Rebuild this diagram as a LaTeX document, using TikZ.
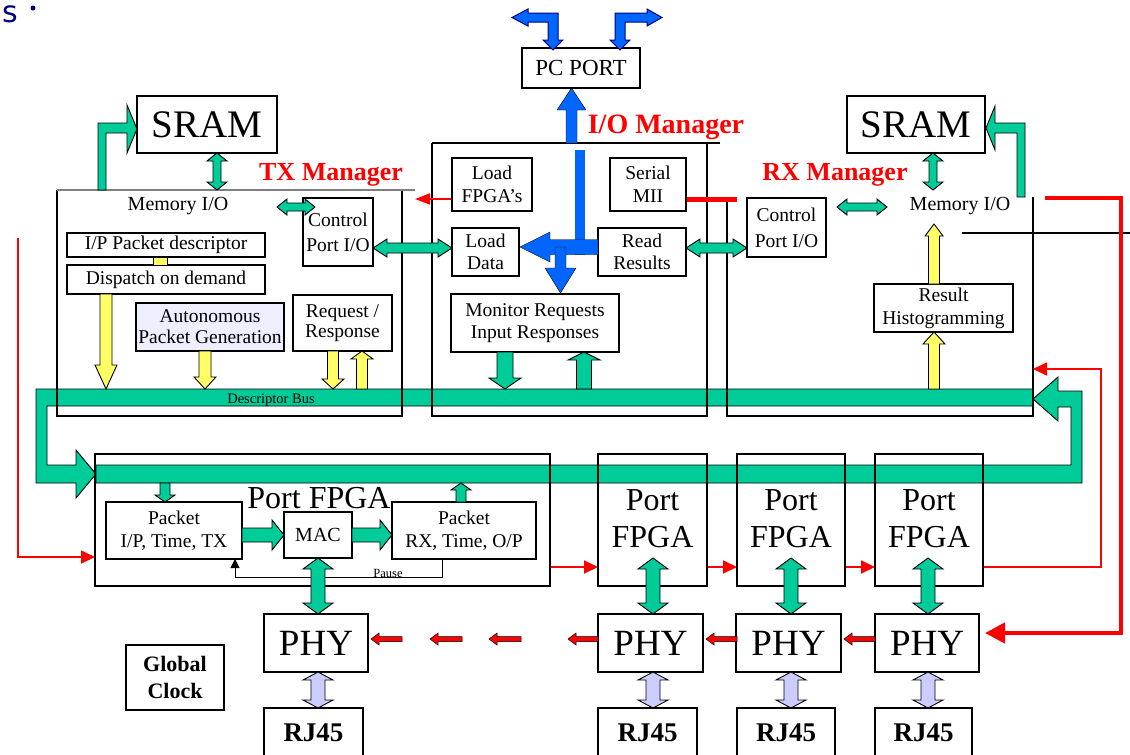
\documentclass[tikz,border=0pt]{standalone}
\usepackage{fontspec}
\setmainfont{Liberation Serif}
\newfontfamily\sansS{DejaVu Sans}
\usetikzlibrary{arrows.meta}
\definecolor{grn}{RGB}{0,204,153}
\definecolor{blu}{RGB}{0,102,255}
\definecolor{ylw}{RGB}{255,255,102}
\definecolor{lav}{RGB}{204,204,255}
\definecolor{rdd}{RGB}{255,0,0}
\definecolor{nvy}{RGB}{0,0,128}
\definecolor{apgfill}{RGB}{238,238,255}
\newcommand{\myfs}[2]{\fontsize{#1}{#2}\selectfont}
% vertical single-headed block arrow: x, ytail, ytip, half shaft, half head, head length, style
\newcommand{\blkV}[7]{%
 \pgfmathsetmacro\bdir{ifthenelse(#3>#2,1,-1)}%
 \pgfmathsetmacro\bbase{#3-\bdir*#6}%
 \draw[#7] ({#1-#4},#2) -- ({#1-#4},\bbase) -- ({#1-#5},\bbase) -- (#1,#3) -- ({#1+#5},\bbase) -- ({#1+#4},\bbase) -- ({#1+#4},#2) -- cycle;}
% horizontal single-headed block arrow: y, xtail, xtip, half shaft, half head, head length, style
\newcommand{\blkH}[7]{%
 \pgfmathsetmacro\bdir{ifthenelse(#3>#2,1,-1)}%
 \pgfmathsetmacro\bbase{#3-\bdir*#6}%
 \draw[#7] (#2,{#1-#4}) -- (\bbase,{#1-#4}) -- (\bbase,{#1-#5}) -- (#3,#1) -- (\bbase,{#1+#5}) -- (\bbase,{#1+#4}) -- (#2,{#1+#4}) -- cycle;}
% vertical double-headed: x, ytop, ybottom, hs, hh, hl, style
\newcommand{\blkVV}[7]{%
 \draw[#7] (#1,#2) -- ({#1+#5},{#2+#6}) -- ({#1+#4},{#2+#6}) -- ({#1+#4},{#3-#6}) -- ({#1+#5},{#3-#6}) -- (#1,#3) -- ({#1-#5},{#3-#6}) -- ({#1-#4},{#3-#6}) -- ({#1-#4},{#2+#6}) -- ({#1-#5},{#2+#6}) -- cycle;}
% horizontal double-headed: y, xleft, xright, hs, hh, hl, style
\newcommand{\blkHH}[7]{%
 \draw[#7] (#2,#1) -- ({#2+#6},{#1-#5}) -- ({#2+#6},{#1-#4}) -- ({#3-#6},{#1-#4}) -- ({#3-#6},{#1-#5}) -- (#3,#1) -- ({#3-#6},{#1+#5}) -- ({#3-#6},{#1+#4}) -- ({#2+#6},{#1+#4}) -- ({#2+#6},{#1+#5}) -- cycle;}
\tikzset{
 bx/.style={draw, line width=1.1pt, inner sep=0, align=center, fill=white},
 bxo/.style={draw, line width=1.1pt, inner sep=0},
 lbl/.style={inner sep=0, align=center},
 mtitle/.style={inner sep=0, text=rdd, font=\bfseries\myfs{26}{26}},
 mgr/.style={line width=1.1pt},
 gA/.style={draw=black, line width=0.9pt, fill=grn},
 yA/.style={draw=black, line width=0.9pt, fill=ylw},
 lA/.style={draw=black, line width=0.9pt, fill=lav},
 rA/.style={draw=black, line width=0.5pt, fill=rdd},
 bA/.style={fill=blu},
 bAo/.style={draw=nvy, line width=1pt, fill=blu},
 rl/.style={draw=rdd, line width=1.8pt, -{Triangle[length=14pt,width=13pt]}},
}
\begin{document}
\begin{tikzpicture}[x=1pt,y=-1pt,line join=miter]
\useasboundingbox (0,0) rectangle (1130,755);
\clip (0,0) rectangle (1130,755);
\fill[white] (0,0) rectangle (1130,755);

% title remnant
\node[anchor=base west, inner sep=0, text=nvy, font=\sansS\myfs{30}{30}] (ttl) at (2,22) {s};
\fill[nvy] (33,8) circle (2.5);

% ---------- green buses ----------
\draw[gA] (1033,389) -- (36,389) -- (36,483) -- (76,483) -- (76,498) -- (96,474) -- (76,450) -- (76,465) -- (47,465) -- (47,406) -- (1033,406) -- cycle;
\draw[gA] (96,465) -- (1071,465) -- (1071,407) -- (1058,407) -- (1058,421) -- (1033,399) -- (1058,377) -- (1058,391) -- (1082,391) -- (1082,483) -- (96,483) -- cycle;

% ---------- manager frames ----------
\draw[mgr] (57,190) -- (57,416) -- (402,416) -- (402,190);
\draw[gray, line width=1.6pt] (57,190) -- (415,190);
\draw[mgr] (432,143) -- (432,416) -- (707,416) -- (707,143);
\draw[mgr] (432,143) -- (720,143);
\draw[mgr] (727,197) -- (727,416) -- (1033,416) -- (1033,197);
\draw[line width=2.5pt] (962,233) -- (1130,233);

% ---------- red lines ----------
\draw[rl] (18,238) -- (18,557) -- (95,557);
\draw[rl] (550,567) -- (598,567);
\draw[rl] (707,567) -- (737,567);
\draw[rl] (845,567) -- (875,567);
\draw[rl] (983,567) -- (1101,567) -- (1101,369) -- (1033,369);
\draw[draw=rdd, line width=1.6pt, -{Triangle[length=15pt,width=11pt]}] (452,199) -- (415,199);
\draw[rdd, line width=5pt] (686,199) -- (737,199);
\draw[rdd, line width=4.5pt, -{Triangle[length=20pt,width=20pt]}] (1045,198) -- (1121,198) -- (1121,633) -- (985,633);

% Pause feedback
\draw[line width=1pt, -{Triangle[length=9pt,width=9pt]}] (442,559) -- (442,577) -- (235,577) -- (235,559);

% ---------- boxes ----------
\node[bx, minimum width=118, minimum height=40, font=\myfs{23}{26}] (pc) at (581,68) {PC PORT};
\node[bx, minimum width=140, minimum height=57, font=\myfs{39}{40}] (sramL) at (207,124.5) {SRAM};
\node[bx, minimum width=138, minimum height=57, font=\myfs{39}{40}] (sramR) at (916,124.5) {SRAM};
\node[lbl, font=\myfs{20}{22}] (memL) at (178,206) {Memory I/O};
\node[lbl, font=\myfs{20}{22}] (memR) at (960,206) {Memory I/O};
\node[bx, minimum width=70, minimum height=68, font=\myfs{19.5}{25}] (ctlT) at (338,232) {Control\\Port I/O};
\node[bx, minimum width=79, minimum height=59, font=\myfs{19.5}{26}] (ctlR) at (786.5,227.5) {Control\\Port I/O};
\node[bx, minimum width=80, minimum height=53, font=\myfs{19.5}{23}] (ldf) at (492,184.5) {Load\\FPGA's};
\node[bx, minimum width=76, minimum height=53, font=\myfs{19.5}{23}] (ser) at (648,184.5) {Serial\\MII};
\node[bx, minimum width=67, minimum height=48, font=\myfs{19.5}{22}] (ldd) at (485.5,252) {Load\\Data};
\node[bx, minimum width=88, minimum height=48, font=\myfs{19.5}{22}] (rdr) at (642,252) {Read\\Results};
\node[bx, minimum width=168, minimum height=58, font=\myfs{19.5}{22}] (mon) at (535,323) {Monitor Requests\\Input Responses};
\node[bx, minimum width=198, minimum height=24, font=\myfs{19.5}{22}] (ipd) at (166,245) {I/P Packet descriptor};
\node[bx, minimum width=198, minimum height=29, font=\myfs{19.5}{22}] (disp) at (166,279.5) {Dispatch on demand};
\node[bx, fill=apgfill, minimum width=148, minimum height=48, font=\myfs{19.5}{21}] (apg) at (210,327) {Autonomous\\Packet Generation};
\node[bx, minimum width=99, minimum height=56, font=\myfs{19.5}{20}] (req) at (342.5,323) {Request /\\Response};
\node[bx, minimum width=139, minimum height=48, font=\myfs{19.5}{23}] (hist) at (943.5,308) {Result\\Histogramming};

\node[bxo, minimum width=455, minimum height=132] (pfB) at (322.5,520) {};
\node[lbl, font=\myfs{32}{34}] (pfBt) at (319,498) {Port FPGA};
\node[bx, minimum width=136, minimum height=57, font=\myfs{19.5}{23}] (pktT) at (174,530.5) {Packet\\I/P, Time, TX};
\node[bx, minimum width=68, minimum height=46, font=\myfs{20}{22}] (mac) at (318,535) {MAC};
\node[bx, minimum width=144, minimum height=57, font=\myfs{19.5}{23}] (pktR) at (464,530.5) {Packet\\RX, Time, O/P};
\node[lbl, font=\myfs{12.5}{13}] (pause) at (388,573) {Pause};

\node[bxo, minimum width=109, minimum height=132] (pf2) at (652.5,520) {};
\node[bxo, minimum width=108, minimum height=132] (pf3) at (791,520) {};
\node[bxo, minimum width=108, minimum height=132] (pf4) at (929,520) {};
\node[lbl, font=\myfs{32}{37}] (pf2t) at (652.5,518.5) {Port\\FPGA};
\node[lbl, font=\myfs{32}{37}] (pf3t) at (791,518.5) {Port\\FPGA};
\node[lbl, font=\myfs{32}{37}] (pf4t) at (929,518.5) {Port\\FPGA};

\node[bx, minimum width=104, minimum height=58, font=\myfs{37}{38}] (phy1) at (316,643) {PHY};
\node[bx, minimum width=105, minimum height=58, font=\myfs{37}{38}] (phy2) at (650.5,643) {PHY};
\node[bx, minimum width=105, minimum height=58, font=\myfs{37}{38}] (phy3) at (788.5,643) {PHY};
\node[bx, minimum width=104, minimum height=58, font=\myfs{37}{38}] (phy4) at (927,643) {PHY};

\node[bx, minimum width=99, minimum height=62] (rj1) at (313.5,739) {};
\node[bx, minimum width=99, minimum height=62] (rj2) at (647.5,739) {};
\node[bx, minimum width=98, minimum height=62] (rj3) at (786,739) {};
\node[bx, minimum width=97, minimum height=62] (rj4) at (923.5,739) {};
\node[lbl, font=\bfseries\myfs{27}{28}] (rj1t) at (313.5,733) {RJ45};
\node[lbl, font=\bfseries\myfs{27}{28}] (rj2t) at (647.5,733) {RJ45};
\node[lbl, font=\bfseries\myfs{27}{28}] (rj3t) at (786,733) {RJ45};
\node[lbl, font=\bfseries\myfs{27}{28}] (rj4t) at (923.5,733) {RJ45};

\node[bx, minimum width=98, minimum height=65, font=\bfseries\myfs{22}{27}] (gclk) at (175,677.5) {Global\\Clock};

% ---------- titles ----------
\node[mtitle, font=\bfseries\myfs{28}{28}] (iom) at (666,127) {I/O Manager};
\node[mtitle] (txm) at (331,175) {TX Manager};
\node[mtitle] (rxm) at (835,175) {RX Manager};

% ---------- green block arrows ----------
\draw[gA] (98,190) -- (98,123) -- (127,123) -- (127,105) -- (137,129) -- (127,153) -- (127,133) -- (106,133) -- (106,190) -- cycle;
\draw[gA] (1025,197) -- (1025,123) -- (995,123) -- (995,106) -- (986,128) -- (995,150) -- (995,133) -- (1017,133) -- (1017,197) -- cycle;
\blkVV{217}{153}{190}{4}{10}{8}{gA}
\blkVV{933}{153}{190}{4}{10}{8}{gA}
\blkHH{207}{277}{315}{4}{8}{10}{gA}
\blkHH{207}{837}{887}{4}{8}{10}{gA}
\blkHH{248}{373}{452}{5}{9}{14}{gA}
\blkHH{248}{686}{747}{5}{9}{14}{gA}
\blkV{505}{352}{389}{8}{16}{11}{gA}
\blkV{584}{389}{352}{7.5}{16}{8}{gA}
\blkV{165}{483}{502}{5}{10}{7}{gA}
\blkV{461}{502}{483}{5}{10}{7}{gA}
\blkH{535}{242}{284}{7}{15}{12}{gA}
\blkH{535}{352}{392}{7}{15}{12}{gA}
\blkVV{318}{558}{614}{7}{15}{11}{gA}
\blkVV{653}{558}{614}{7}{15}{11}{gA}
\blkVV{791}{558}{614}{7}{15}{11}{gA}
\blkVV{928}{558}{614}{7}{15}{11}{gA}

% ---------- lavender ----------
\blkVV{318}{672}{708}{7}{15}{8}{lA}
\blkVV{653}{672}{708}{7}{15}{8}{lA}
\blkVV{791}{672}{708}{7}{15}{8}{lA}
\blkVV{928}{672}{708}{7}{15}{8}{lA}

% ---------- yellow ----------
\draw[yA] (153,257) rectangle (167,265);
\blkV{106}{294}{389}{6}{11}{24}{yA}
\blkV{205}{351}{389}{6}{11}{12}{yA}
\blkV{333}{351}{389}{5.5}{11}{10}{yA}
\blkV{362}{389}{351}{5.5}{11}{8}{yA}
\blkV{934}{389}{332}{5.5}{11}{12}{yA}
\blkV{934}{284}{224}{5.5}{9}{12}{yA}

% ---------- small red arrows ----------
\blkH{639}{875}{844}{2.5}{6}{8}{rA}
\blkH{639}{737}{706}{2.5}{6}{8}{rA}
\blkH{639}{598}{568}{2.5}{6}{8}{rA}
\blkH{639}{521}{489}{2.5}{6}{8}{rA}
\blkH{639}{462}{430}{2.5}{6}{8}{rA}
\blkH{639}{402}{371}{2.5}{6}{8}{rA}

% ---------- blue ----------
\blkV{571.5}{143}{88}{5.5}{14.5}{22}{bA}
\fill[blu] (575,150) rectangle (585,255);
\blkH{247}{598}{520}{7.5}{15}{30}{bA}
\blkV{560.5}{247}{293}{5.5}{15.5}{25}{bA}
\draw[bAo] (553,50) -- (563,40) -- (558,40) -- (558,13) -- (528,13) -- (528,9) -- (512,17.5) -- (528,26) -- (528,22) -- (548,22) -- (548,40) -- (543,40) -- cycle;
\draw[bAo] (620,50) -- (610,40) -- (615,40) -- (615,13) -- (647,13) -- (647,9) -- (662,17.5) -- (647,26) -- (647,22) -- (625,22) -- (625,40) -- (630,40) -- cycle;

% bus label
\node[lbl, font=\myfs{14.5}{15}] (dbus) at (271,400) {Descriptor Bus};
\end{tikzpicture}
\end{document}
